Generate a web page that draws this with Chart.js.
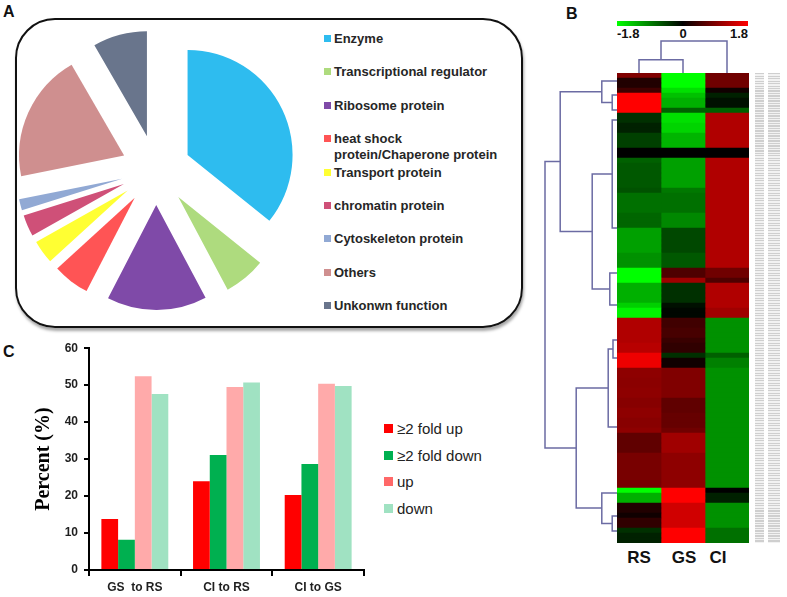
<!DOCTYPE html>
<html><head><meta charset="utf-8">
<script src="https://cdn.jsdelivr.net/npm/chart.js@4.4.1/dist/chart.umd.min.js"></script>
<style>
html,body{margin:0;padding:0;background:#fff;}
body{width:787px;height:597px;position:relative;overflow:hidden;font-family:'Liberation Sans',Arial,sans-serif;}
.abs{position:absolute;}
.plabel{position:absolute;font-weight:bold;font-size:16px;color:#111;line-height:16px;}
#boxA{position:absolute;left:15px;top:18px;width:504px;height:306px;border:2px solid #111;border-radius:40px;box-shadow:1px 3px 3px rgba(0,0,0,0.35);}
.legA{position:absolute;left:324px;font-weight:bold;font-size:13px;line-height:16px;color:#262626;white-space:pre;}
.legA .sw{position:absolute;left:0;top:4px;width:7px;height:7px;}
.legA .tx{position:absolute;left:10px;top:0;}
.legC{position:absolute;left:384px;font-size:15px;line-height:18px;color:#222;white-space:pre;}
.legC .sw{position:absolute;left:0;top:4px;width:9px;height:9px;}
.legC .tx{position:absolute;left:13px;top:0;}
.key{position:absolute;font-weight:bold;font-size:13px;line-height:14px;color:#111;}
.col{position:absolute;top:549px;font-weight:bold;font-size:17px;line-height:18px;color:#111;transform:translateX(-50%);}
.genes{position:absolute;top:73px;height:470px;background:repeating-linear-gradient(to bottom,#cfcfcf 0,#cfcfcf 1px,#f2f2f2 1px,#f2f2f2 2.5px);}
canvas{position:absolute;}
</style></head><body>
<div class="plabel" style="left:3px;top:4px;">A</div>
<div class="plabel" style="left:566px;top:6px;">B</div>
<div class="plabel" style="left:3px;top:344px;">C</div>
<div id="boxA"></div>
<canvas id="pie" width="300" height="300" style="left:6px;top:20px;"></canvas>
<div id="legendA"></div>
<div id="keyBar" class="abs" style="left:617px;top:21px;width:131px;height:5px;background:linear-gradient(to right,#00ff00,#000000,#ff0000);"></div>
<div id="keyLabels"></div>
<canvas id="colDendro" width="132" height="40" style="left:617px;top:33px;"></canvas>
<canvas id="rowDendro" width="80" height="470" style="left:537px;top:73px;"></canvas>
<canvas id="heat" width="132" height="470" style="left:617px;top:73px;"></canvas>
<div class="genes" style="left:755px;width:9px;"></div>
<div class="genes" style="left:768px;width:12px;"></div>
<div id="colLabels"></div>
<canvas id="bars" width="370" height="262" style="left:0px;top:335px;"></canvas>
<div id="legendC"></div>
<script>
// ---------- Panel A data ----------
const pieLabels = ['Enzyme','Transcriptional regulator','Ribosome protein','heat shock\nprotein/Chaperone protein','Transport protein','chromatin protein','Cytoskeleton protein','Others','Unkonwn function'];
const pieValues = [35.6, 6.4, 15.3, 5.6, 3.6, 3.3, 1.7, 19.7, 8.3];
const pieColors = ['#2ebcef','#aedb7e','#7f4aa8','#ff5455','#ffff33','#cf5078','#91a9d4','#cf8f8f','#69758c'];

// ---------- Panel B data ----------
const heatColumns = ['RS','GS','CI'];
const keyTicks = ['-1.8','0','1.8'];
const rsValues = [0.9,0.23,0.23,0.45,1.8,1.8,1.8,1.8,-0.34,-0.34,-0.23,-0.23,-0.45,-0.45,-0.45,0,0,-0.68,-0.62,-0.62,-0.62,-0.62,-0.62,-0.58,-0.79,-0.79,-0.79,-0.79,-0.72,-0.72,-0.72,-1.13,-1.13,-1.13,-1.13,-1.13,-1.02,-1.02,-1.02,-1.8,-1.8,-1.8,-1.24,-1.24,-1.24,-1.24,-1.47,-1.72,-1.72,1.24,1.24,1.24,1.24,1.24,1.3,1.3,1.68,1.68,1.68,1.0,1.0,0.98,0.98,1.0,1.0,0.95,0.95,1.0,1.0,0.96,0.96,1.0,0.68,0.68,0.68,0.68,0.85,0.85,0.85,0.85,0.85,0.85,0.85,-1.8,-1.24,-1.24,0.23,0.23,0.11,0.34,0.34,-0.34,-0.23,-0.23];
const gsValues = [-1.8,-1.8,-1.8,-1.58,-1.36,-1.24,-1.24,-0.68,-1.58,-1.58,-1.5,-1.5,-1.28,-1.28,-1.28,0,0,-1.13,-1.13,-1.13,-1.13,-1.13,-1.13,-0.85,-0.79,-0.79,-0.79,-0.79,-0.96,-0.96,-0.96,-0.51,-0.51,-0.51,-0.51,-0.51,-0.62,-0.62,-0.62,0.56,0.56,1.13,-0.34,-0.34,-0.34,-0.34,-0.11,-0.05,-0.05,0.45,0.45,0.5,0.5,0.4,0.34,0.34,-0.34,0.11,0.11,0.9,0.9,0.9,0.9,0.9,0.9,0.68,0.68,0.68,0.72,0.72,0.72,0.79,1.13,1.13,1.13,1.13,1.0,1.0,1.0,1.0,1.0,1.0,1.0,1.8,1.8,1.8,1.47,1.47,1.47,1.47,1.47,1.8,1.8,1.8];
const ciValues = [0.79,0.79,0.79,0.11,-0.23,-0.11,-0.11,-0.68,1.24,1.24,1.24,1.24,1.24,1.24,1.24,0,0,1.24,1.24,1.24,1.24,1.24,1.24,1.24,1.24,1.24,1.24,1.24,1.24,1.24,1.24,1.24,1.24,1.24,1.24,1.24,1.24,1.24,1.24,0.79,0.79,0.56,1.24,1.24,1.24,1.24,1.24,1.13,1.13,-1.02,-1.02,-1.02,-1.02,-1.02,-1.02,-1.02,-0.68,-0.9,-0.9,-1.02,-1.02,-1.02,-1.02,-1.02,-1.02,-1.02,-1.02,-1.02,-1.02,-1.02,-1.02,-1.02,-1.02,-1.02,-1.02,-1.02,-1.02,-1.02,-1.02,-1.02,-1.02,-1.02,-1.02,0,-0.23,-0.23,-1.02,-1.02,-1.02,-1.02,-1.02,-0.79,-0.79,-0.79];
// row dendrogram merges: [height, rowA, heightA, rowB, heightB]
const rowMerges = [
  [0.6, 4.4, 0, 7.4, 0],
  [1.9, 1.6, 0, 5.9, 0.6],
  [0.6, 9.4, 0, 31.0, 0],
  [0.9, 40.0, 0, 46.4, 0],
  [3.1, 20.2, 0.6, 43.2, 0.9],
  [7.1, 3.75, 1.9, 31.7, 3.1],
  [0.5, 53.4, 0, 57.0, 0],
  [1.1, 55.2, 0.5, 70.8, 0],
  [0.6, 88.6, 0, 91.6, 0],
  [1.9, 84.0, 0, 90.1, 0.6],
  [5.1, 63.0, 1.1, 87.0, 1.9],
  [9.0, 17.7, 7.1, 75.0, 5.1]
];
// column dendrogram merges: [height, colA, heightA, colB, heightB]
const colMerges = [
  [0.33, 0.5, 0, 1.5, 0],
  [0.8, 1.0, 0.33, 2.5, 0]
];

// ---------- Panel C data ----------
const barCategories = ['GS  to RS','CI to RS','CI to GS'];
const barSeries = ['\u22652 fold up','\u22652 fold down','up','down'];
const foldUp = [13.8, 24.0, 20.3];
const foldDown = [8.2, 31.1, 28.7];
const upValues = [52.4, 49.5, 50.4];
const downValues = [47.6, 50.7, 49.8];
const yTickValues = [0, 10, 20, 30, 40, 50, 60];

// ---------- styles ----------
const FONT = "'Liberation Sans', Arial, sans-serif";
const barColors = ['#ff0000','#00b050','#ffaaaa','#a0e2c2'];
const legendCColors = ['#ff0000','#00b050','#ff6868','#a0e2c2'];
const dendroColor = '#6b6ba3';

// ---------- Panel A ----------
const PIE_RADIUS = 105, PIE_OFFSET = 140;
// keep every exploded slice at the same radius and true angle
const pieRadiusFix = {
  id: 'pieRadiusFix',
  afterDatasetsUpdate(chart) {
    chart.getDatasetMeta(0).data.forEach(arc => {
      const fix = 1 - Math.sin(Math.min(Math.PI, arc.circumference));
      const o = (PIE_OFFSET / 4) * fix;
      arc.outerRadius = PIE_RADIUS - o;
      const d = o / (Math.PI * PIE_RADIUS);
      arc.startAngle -= d / 2;
      arc.endAngle += d / 2;
    });
  }
};
new Chart(document.getElementById('pie'), {
  type: 'pie',
  data: { labels: pieLabels, datasets: [{ data: pieValues, backgroundColor: pieColors, borderWidth: 0, offset: PIE_OFFSET }] },
  options: { responsive: false, animation: false, radius: PIE_RADIUS, layout: { padding: 0 },
    plugins: { legend: { display: false }, tooltip: { enabled: false } } },
  plugins: [pieRadiusFix]
});
const legA = document.getElementById('legendA');
pieLabels.forEach((lab, i) => {
  const d = document.createElement('div');
  d.className = 'legA';
  d.style.top = (31 + 33.4 * i) + 'px';
  d.innerHTML = '<span class="sw" style="background:' + pieColors[i] + '"></span><span class="tx"></span>';
  d.querySelector('.tx').textContent = lab;
  legA.appendChild(d);
});

// ---------- Panel B ----------
function valueColor(v) {
  const c = Math.round(255 * Math.min(1, Math.abs(v) / 1.8));
  return v >= 0 ? 'rgb(' + c + ',0,0)' : 'rgb(0,' + c + ',0)';
}
const heatValues = [rsValues, gsValues, ciValues];
const rowIds = rsValues.map((_, i) => 'gene' + (i + 1));
new Chart(document.getElementById('heat'), {
  type: 'bar',
  data: { labels: rowIds, datasets: heatColumns.map((name, c) => ({
    label: name, data: rowIds.map(() => [c, c + 1]),
    backgroundColor: heatValues[c].map(valueColor), borderWidth: 0,
    grouped: false, barPercentage: 1, categoryPercentage: 1 })) },
  options: { indexAxis: 'y', responsive: false, animation: false, layout: { padding: 0 },
    plugins: { legend: { display: false }, tooltip: { enabled: false } },
    scales: { x: { type: 'linear', min: 0, max: heatColumns.length, display: false },
              y: { type: 'category', display: false } } }
});
function lineSet(points) {
  return { data: points, showLine: true, borderColor: dendroColor, borderWidth: 1.5, pointRadius: 0, tension: 0, fill: false, clip: false };
}
new Chart(document.getElementById('rowDendro'), {
  type: 'scatter',
  data: { datasets: rowMerges.map(m => lineSet([{x: m[2], y: m[1]}, {x: m[0], y: m[1]}, {x: m[0], y: m[3]}, {x: m[4], y: m[3]}])) },
  options: { responsive: false, animation: false, layout: { padding: 0 },
    plugins: { legend: { display: false }, tooltip: { enabled: false } },
    scales: { x: { type: 'linear', min: 0, max: 10, reverse: true, display: false },
              y: { type: 'linear', min: 0, max: rsValues.length, reverse: true, display: false } } }
});
new Chart(document.getElementById('colDendro'), {
  type: 'scatter',
  data: { datasets: colMerges.map(m => lineSet([{x: m[1], y: m[2]}, {x: m[1], y: m[0]}, {x: m[3], y: m[0]}, {x: m[3], y: m[4]}])) },
  options: { responsive: false, animation: false, layout: { padding: 0 },
    plugins: { legend: { display: false }, tooltip: { enabled: false } },
    scales: { x: { type: 'linear', min: 0, max: heatColumns.length, display: false },
              y: { type: 'linear', min: 0, max: 1, display: false } } }
});
const keyDiv = document.getElementById('keyLabels');
const keyAlign = [['617px','0'],['683px','-50%'],['748px','-100%']];
keyTicks.forEach((t, i) => {
  const s = document.createElement('div');
  s.className = 'key';
  s.style.left = keyAlign[i][0]; s.style.top = '27px';
  s.style.transform = 'translateX(' + keyAlign[i][1] + ')';
  s.textContent = t;
  keyDiv.appendChild(s);
});
const colDiv = document.getElementById('colLabels');
const colCenters = ['639px','684px','718px'];
heatColumns.forEach((n, i) => {
  const s = document.createElement('div');
  s.className = 'col'; s.style.left = colCenters[i]; s.textContent = n;
  colDiv.appendChild(s);
});

// ---------- Panel C ----------
const barData = [foldUp, foldDown, upValues, downValues];
new Chart(document.getElementById('bars'), {
  type: 'bar',
  data: { labels: barCategories, datasets: barSeries.map((s, i) => ({ label: s, data: barData[i], backgroundColor: barColors[i], borderWidth: 0, barPercentage: 1, categoryPercentage: 0.73 })) },
  options: { responsive: false, animation: false,
    layout: { padding: { top: 10, right: 6, left: 0, bottom: 0 } },
    plugins: { legend: { display: false }, tooltip: { enabled: false } },
    scales: {
      x: { grid: { display: true, drawOnChartArea: false, drawTicks: true, tickLength: 6, color: '#000', lineWidth: 2, offset: true },
           border: { display: true, color: '#000', width: 2 },
           ticks: { font: { family: FONT, size: 12, weight: 'bold' }, color: '#1f1f1f', padding: 4, maxRotation: 0 },
           afterFit(s) { s.height = 27; } },
      y: { min: 0, max: 60,
           afterBuildTicks(s) { s.ticks = yTickValues.map(v => ({ value: v })); },
           grid: { display: true, drawOnChartArea: false, drawTicks: true, tickLength: 5, color: '#000', lineWidth: 2 },
           border: { display: true, color: '#000', width: 2 },
           ticks: { font: { family: FONT, size: 12, weight: 'bold' }, color: '#1f1f1f', padding: 6 },
           title: { display: true, text: 'Percent (%)', color: '#000', font: { family: "'Liberation Serif', 'Times New Roman', serif", size: 20, weight: 'bold' }, padding: { top: 32, bottom: 0 } },
           afterFit(s) { s.width = 89; } }
    } }
});
const legC = document.getElementById('legendC');
barSeries.forEach((s, i) => {
  const d = document.createElement('div');
  d.className = 'legC';
  d.style.top = (420 + 26.7 * i) + 'px';
  d.innerHTML = '<span class="sw" style="background:' + legendCColors[i] + '"></span><span class="tx"></span>';
  d.querySelector('.tx').textContent = s;
  legC.appendChild(d);
});
</script>
</body></html>
